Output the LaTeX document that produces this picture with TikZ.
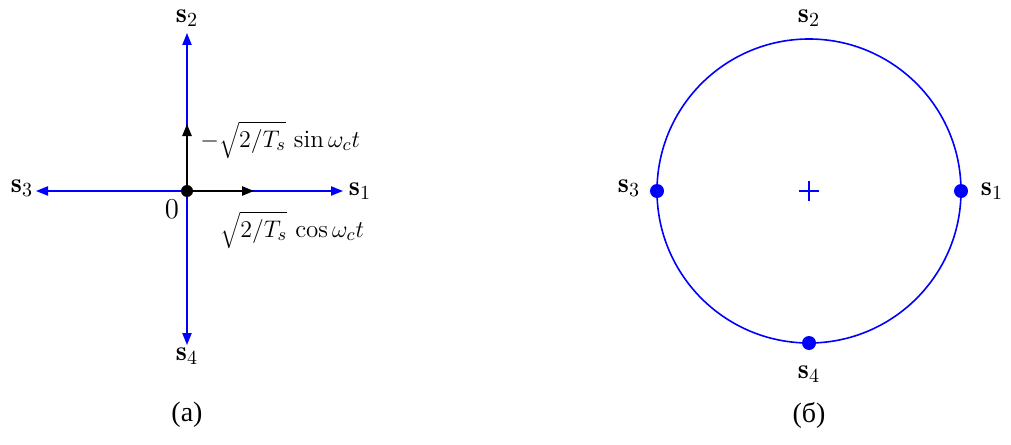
\documentclass[tikz,border=0pt]{standalone}
\usepackage{fontspec}
\newfontfamily\cyr{Liberation Serif}
\usetikzlibrary{arrows.meta}
\tikzset{
  axis/.style={blue, line width=0.8pt, -{Triangle[length=6pt,width=4.6pt]}},
  basis/.style={black, line width=1pt, -{Triangle[length=6pt,width=4.6pt]}},
  lab/.style={font=\fontsize{14}{16}\selectfont, inner sep=0pt},
  mlab/.style={font=\fontsize{12.5}{15}\selectfont, inner sep=0pt},
  captxt/.style={font=\cyr\fontsize{14}{16}\selectfont, inner sep=0pt},
  pt/.style={circle, fill=blue, inner sep=0pt, minimum size=7pt},
}
\begin{document}
\begin{tikzpicture}[x=0.5pt,y=-0.5pt]
\useasboundingbox (0,0) rectangle (1011,444);
% left diagram
\coordinate (O) at (187,191);
\coordinate (e1) at (343,191);
\coordinate (e2) at (187,33);
\coordinate (e3) at (36,191);
\coordinate (e4) at (187,345);
\coordinate (b1) at (254,191);
\coordinate (b2) at (187,124);
\draw[axis] (O) -- (e1);
\draw[axis] (O) -- (e2);
\draw[axis] (O) -- (e3);
\draw[axis] (O) -- (e4);
\draw[basis] (O) -- (b1);
\draw[basis] (O) -- (b2);
\fill (O) circle (6);
\node[lab] (s1) at (360,191) {$\mathbf{s}_1$};
\node[lab] (s2) at (187,18) {$\mathbf{s}_2$};
\node[lab] (s3) at (22,188) {$\mathbf{s}_3$};
\node[lab] (s4) at (187,356) {$\mathbf{s}_4$};
\node[lab] (o) at (172,209) {$0$};
\node[mlab, anchor=west] (sinl) at (200,140) {$-\sqrt{2/T_s}\,\sin\omega_c t$};
\node[mlab, anchor=west] (cosl) at (220,230) {$\sqrt{2/T_s}\,\cos\omega_c t$};
\node[captxt] (ca) at (187,415) {(а)};
% right diagram
\coordinate (C) at (809,191);
\draw[blue, line width=0.8pt] (C) circle (152);
\draw[blue, line width=0.6pt] (799,191) -- (819,191) (809,181) -- (809,201);
\node[pt] (p1) at (961,191) {};
\node[pt] (p3) at (657,191) {};
\node[pt] (p4) at (809,343) {};
\node[lab] (r1) at (992,191) {$\mathbf{s}_1$};
\node[lab] (r2) at (809,18) {$\mathbf{s}_2$};
\node[lab] (r3) at (629,188) {$\mathbf{s}_3$};
\node[lab] (r4) at (809,374) {$\mathbf{s}_4$};
\node[captxt] (cb) at (809,415) {(б)};
\end{tikzpicture}
\end{document}
